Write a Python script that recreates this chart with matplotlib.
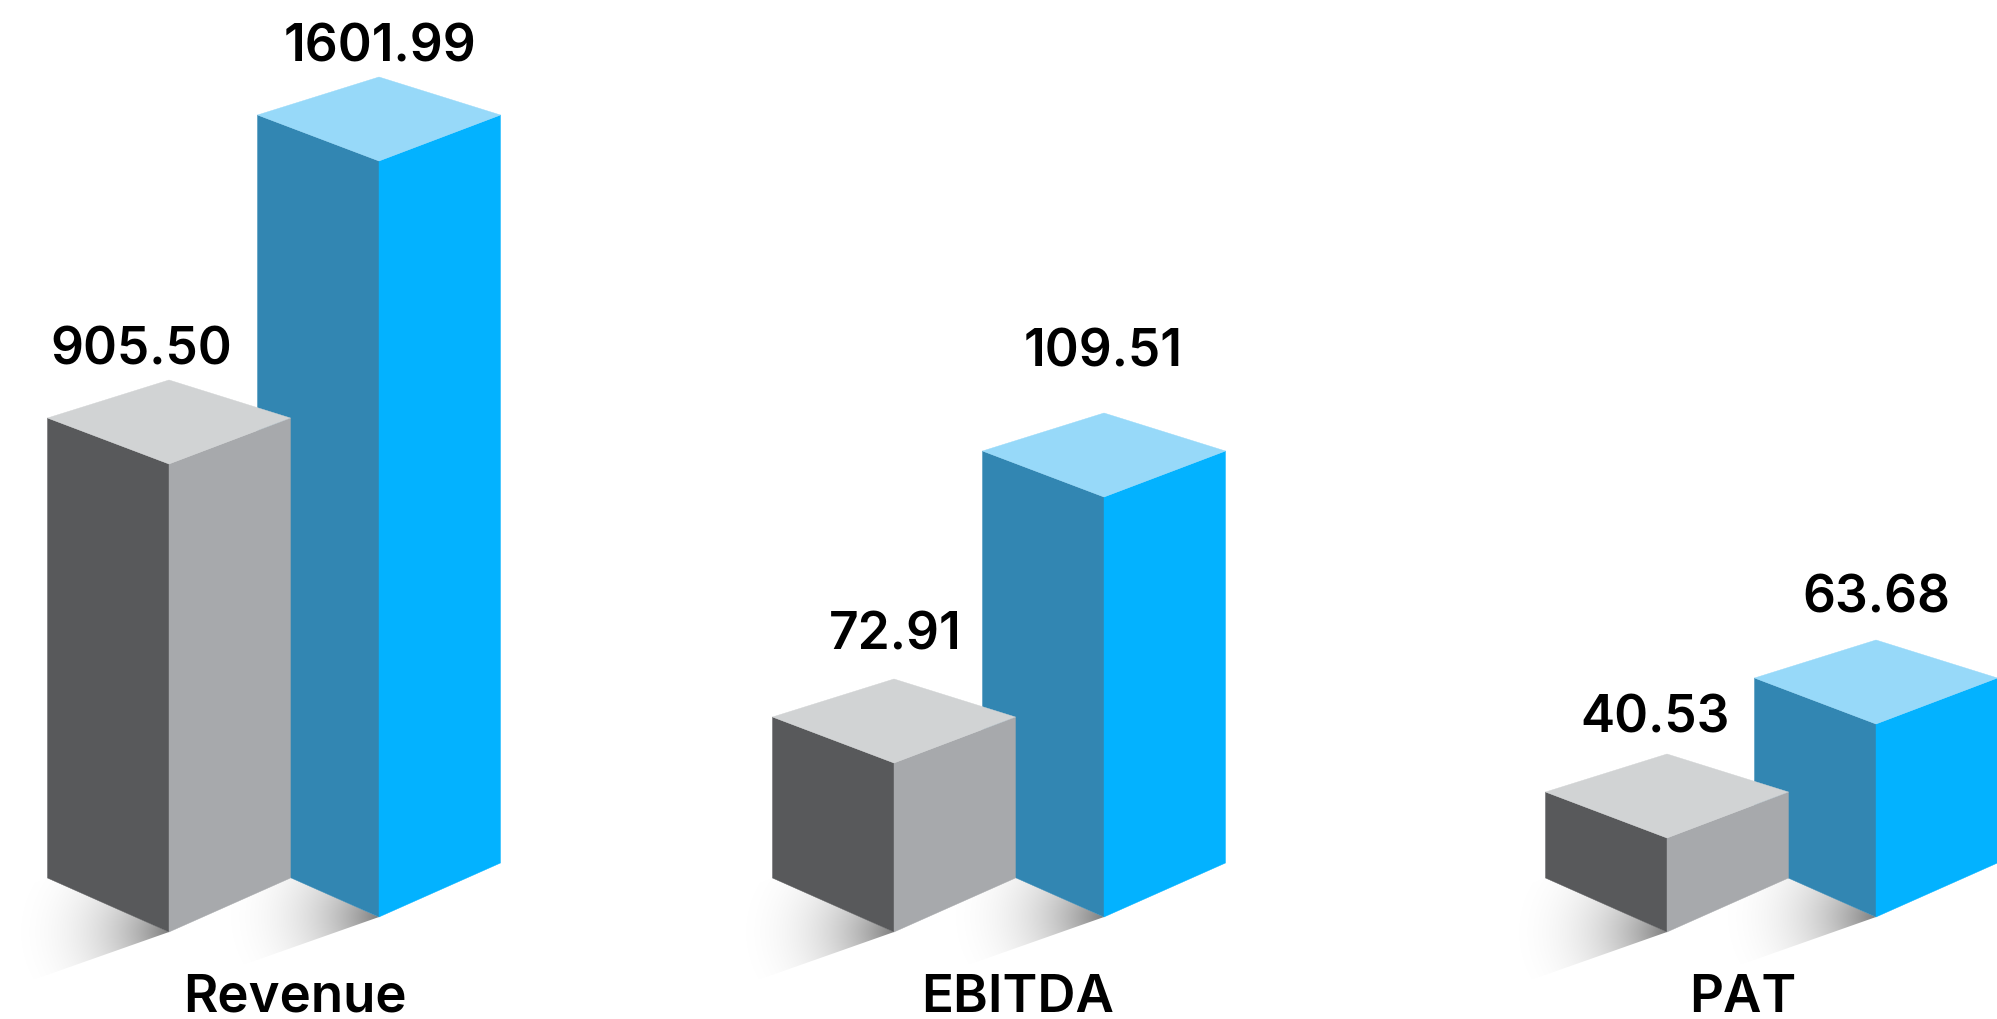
import numpy as np
import matplotlib
matplotlib.use('Agg')
import matplotlib.pyplot as plt
from matplotlib.patches import Polygon

# values printed on the chart
categories = ['Revenue', 'EBITDA', 'PAT']
prev_labels = ['905.50', '72.91', '40.53']
curr_labels = ['1601.99', '109.51', '63.68']

# drawn bar heights, the artwork is not to scale with the printed values
prev_heights = [468, 169, 94]
curr_heights = [756, 420, 193]

# layout, in pixels of the reference
prev_x = [169, 894, 1667]
curr_x = [379, 1104, 1876]
prev_floor = 933
curr_floor = 918
half_w = 121.5
drop = 54
top_near = 46
top_far = 84

prev_label_pos = [(141, 365), (895, 650), (1655, 733)]
curr_label_pos = [(380, 62), (1103, 367), (1876, 613)]
cat_label_pos = [(295, 1012), (1018, 1012), (1743, 1012)]

grey = ['#58595B', '#A7A9AC', '#D1D3D4']
blue = ['#3286B2', '#03B2FF', '#97D9F9']

fig = plt.figure(figsize=(19.97, 10.2), dpi=100)
ax = fig.add_axes([0, 0, 1, 1])
ax.set_xlim(0, 1997)
ax.set_ylim(1020, 0)
ax.axis('off')


def shadow(cx, floor):
    # soft floor shadow running down-left from the left bottom edge
    corner = np.array([cx - half_w, floor - drop])
    apex = np.array([cx, floor])
    shift = np.array([-170, 60])
    pts = [corner, apex, apex + shift, corner + shift]
    patch = Polygon(pts, closed=True, fc='none', ec='none', zorder=1)
    ax.add_patch(patch)

    xx, yy = np.meshgrid(np.arange(cx - 300, cx + 5), np.arange(floor - 80, floor + 80))
    r = np.hypot(xx - cx, (yy - floor) * 1.25)
    rgba = np.zeros(xx.shape + (4,))
    rgba[..., 3] = 0.5 * np.clip(1 - r / 175, 0, 1) ** 2.6
    im = ax.imshow(rgba, extent=(xx.min(), xx.max(), yy.max(), yy.min()),
                   aspect='auto', zorder=1, interpolation='bilinear')
    im.set_clip_path(patch)


def bar(cx, floor, height, colors):
    top = floor - height
    xl, xr = cx - half_w, cx + half_w
    left = [(xl, top - top_near), (cx, top), (cx, floor), (xl, floor - drop)]
    right = [(cx, top), (xr, top - top_near), (xr, floor - drop), (cx, floor)]
    lid = [(xl, top - top_near), (cx, top - top_far), (xr, top - top_near), (cx, top)]
    for pts, c in zip((left, right, lid), colors):
        ax.add_patch(Polygon(pts, closed=True, fc=c, ec=c, lw=0.3, zorder=2))


for i in range(len(categories)):
    shadow(curr_x[i], curr_floor)
    shadow(prev_x[i], prev_floor)
    bar(curr_x[i], curr_floor, curr_heights[i], blue)
    bar(prev_x[i], prev_floor, prev_heights[i], grey)

    style = dict(family='Inter', fontweight=600, color='#000000', ha='center', va='baseline', zorder=3)
    ax.text(*prev_label_pos[i], prev_labels[i], fontsize=37, **style)
    ax.text(*curr_label_pos[i], curr_labels[i], fontsize=37, **style)
    ax.text(*cat_label_pos[i], categories[i], fontsize=38, **style)

ax.set_xlim(0, 1997)
ax.set_ylim(1020, 0)
fig.savefig('out.png', dpi=100, facecolor='white')
